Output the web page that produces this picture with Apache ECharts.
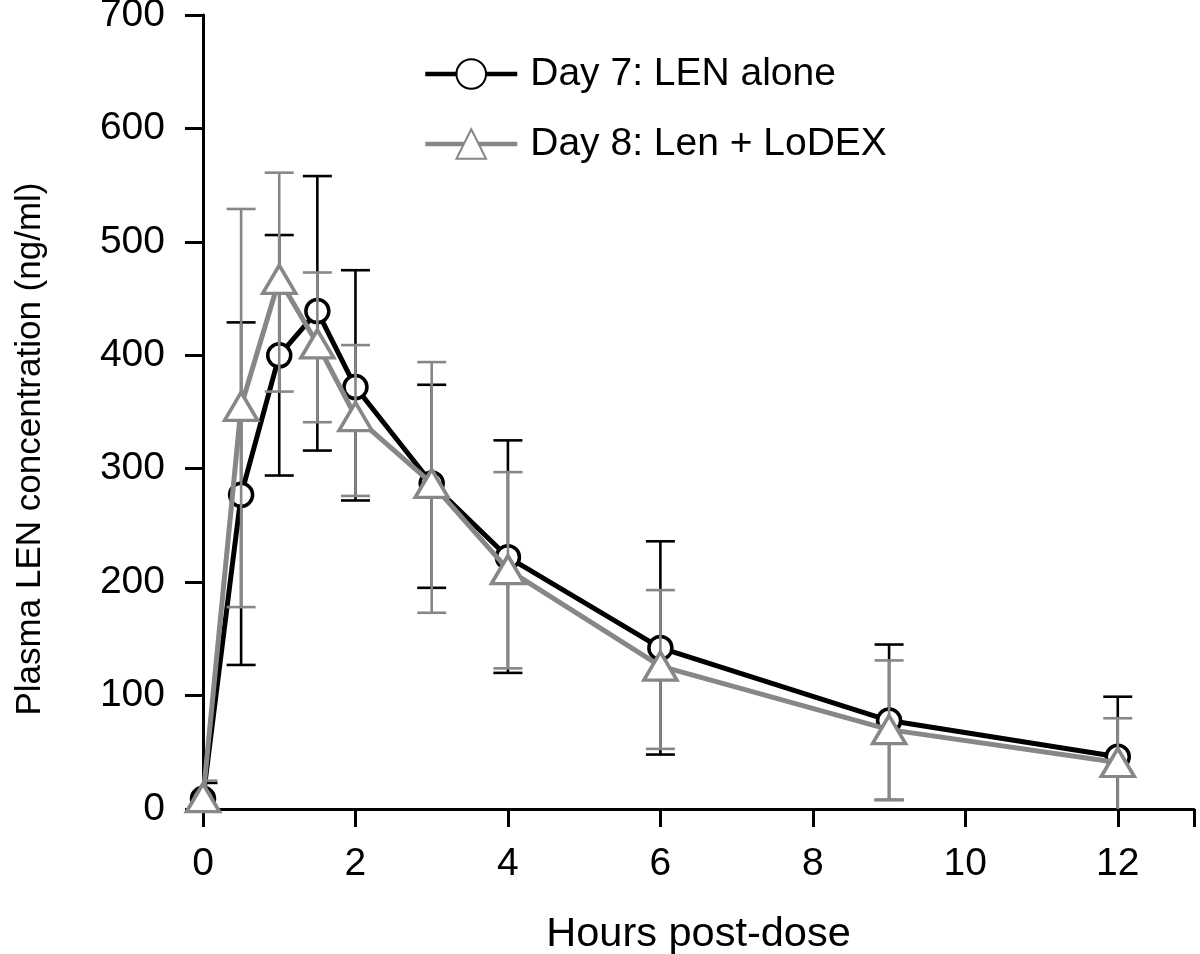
<!DOCTYPE html>
<html>
<head>
<meta charset="utf-8">
<script src="https://cdn.jsdelivr.net/npm/echarts@6/dist/echarts.min.js"></script>
<style>
  html, body { margin: 0; padding: 0; background: #fff; }
  #chart { width: 1200px; height: 954px; }
</style>
</head>
<body>
<div id="chart"></div>
<script>
// ---- Data ----
const times = [0, 0.5, 1, 1.5, 2, 3, 4, 6, 9, 12];

const day7Name = 'Day 7: LEN alone';
const day7Mean = [9, 277, 400, 439, 372, 287, 222, 142, 78, 46];
const day7Low  = [-5, 127, 294, 316, 272, 195, 120, 48, 8, -7];
const day7High = [23, 429, 506, 558, 475, 374, 325, 236, 145, 99];

const day8Name = 'Day 8: Len + LoDEX';
const day8Mean = [10, 355, 467, 410, 346, 287, 211, 126, 70, 41];
const day8Low  = [-5, 178, 368, 341, 276, 173, 124, 53, 8, -3];
const day8High = [25, 529, 561, 473, 409, 394, 297, 193, 131, 80];

const xTicks = [0, 2, 4, 6, 8, 10, 12];
const xAxisTitle = 'Hours post-dose';
const yAxisTitle = 'Plasma LEN concentration (ng/ml)';

// ---- Styling ----
const FONT = '"Liberation Sans", Arial, Helvetica, sans-serif';
const FS = 39;
const BLACK = '#000000';
const GRAY = '#878787';

function pairs(xs, ys) { return xs.map((x, i) => [x, ys[i]]); }
function errData(xs, lo, hi) { return xs.map((x, i) => [x, lo[i], hi[i]]); }

function errRenderer(color) {
  return function (params, api) {
    const x = api.value(0), lo = api.value(1), hi = api.value(2);
    const pLo = api.coord([x, lo]);
    const pHi = api.coord([x, hi]);
    const hw = 14.5;
    const st = { stroke: color, lineWidth: 2.6 };
    return {
      type: 'group',
      children: [
        { type: 'line', shape: { x1: pHi[0], y1: pHi[1], x2: pLo[0], y2: pLo[1] }, style: st },
        { type: 'line', shape: { x1: pHi[0] - hw, y1: pHi[1], x2: pHi[0] + hw, y2: pHi[1] }, style: st },
        { type: 'line', shape: { x1: pLo[0] - hw, y1: pLo[1], x2: pLo[0] + hw, y2: pLo[1] }, style: st }
      ]
    };
  };
}

const chart = echarts.init(document.getElementById('chart'), null, { renderer: 'canvas' });

const axisCommon = {
  axisLine: { show: true, lineStyle: { color: BLACK, width: 3 } },
  axisTick: { show: true, inside: false, length: 18, lineStyle: { color: BLACK, width: 3 } },
  splitLine: { show: false }
};

chart.setOption({
  animation: false,
  backgroundColor: '#ffffff',
  textStyle: { fontFamily: FONT },
  grid: { left: 203, right: 6, top: 15, bottom: 145, containLabel: false, outerBoundsMode: 'none' },
  legend: {
    data: [day7Name, day8Name],
    orient: 'vertical',
    left: 418,
    top: 46,
    itemWidth: 92,
    itemHeight: 37,
    itemGap: 24,
    lineStyle: { width: 4.5 },
    textStyle: { color: BLACK, fontFamily: FONT, fontSize: FS, lineHeight: 46, padding: [0, 0, 0, 8] },
    selectedMode: false
  },
  xAxis: Object.assign({}, axisCommon, {
    type: 'value',
    min: 0,
    max: 13,
    interval: 2,
    name: xAxisTitle,
    nameLocation: 'middle',
    nameGap: 105,
    nameTextStyle: { color: BLACK, fontFamily: FONT, fontSize: 41.5 },
    axisLabel: {
      color: BLACK, fontFamily: FONT, fontSize: FS, margin: 36,
      formatter: function (v) { return xTicks.indexOf(v) >= 0 ? String(v) : ''; }
    }
  }),
  yAxis: Object.assign({}, axisCommon, {
    type: 'value',
    min: 0,
    max: 700,
    interval: 100,
    name: yAxisTitle,
    nameLocation: 'middle',
    nameGap: 155,
    nameTextStyle: { color: BLACK, fontFamily: FONT, fontSize: 35, padding: [0, 74, 0, 0] },
    axisLabel: { color: BLACK, fontFamily: FONT, fontSize: FS, margin: 38 }
  }),
  series: [
    {
      name: day7Name + ' SD',
      type: 'custom',
      clip: true,
      z: 2,
      renderItem: errRenderer(BLACK),
      encode: { x: 0, y: [1, 2] },
      data: errData(times, day7Low, day7High),
      silent: true
    },
    {
      name: day7Name,
      type: 'line',
      z: 3,
      data: pairs(times, day7Mean),
      symbol: 'circle',
      symbolSize: 23,
      showAllSymbol: true,
      lineStyle: { color: BLACK, width: 5 },
      itemStyle: { color: '#ffffff', borderColor: BLACK, borderWidth: 3.5 },
      emphasis: { disabled: true }
    },
    {
      name: day8Name + ' SD',
      type: 'custom',
      clip: true,
      z: 4,
      renderItem: errRenderer(GRAY),
      encode: { x: 0, y: [1, 2] },
      data: errData(times, day8Low, day8High),
      silent: true
    },
    {
      name: day8Name,
      type: 'line',
      z: 5,
      data: pairs(times, day8Mean),
      symbol: 'triangle',
      symbolSize: [33, 28],
      showAllSymbol: true,
      lineStyle: { color: GRAY, width: 5 },
      itemStyle: { color: '#ffffff', borderColor: GRAY, borderWidth: 3.5 },
      emphasis: { disabled: true }
    }
  ]
});
</script>
</body>
</html>
